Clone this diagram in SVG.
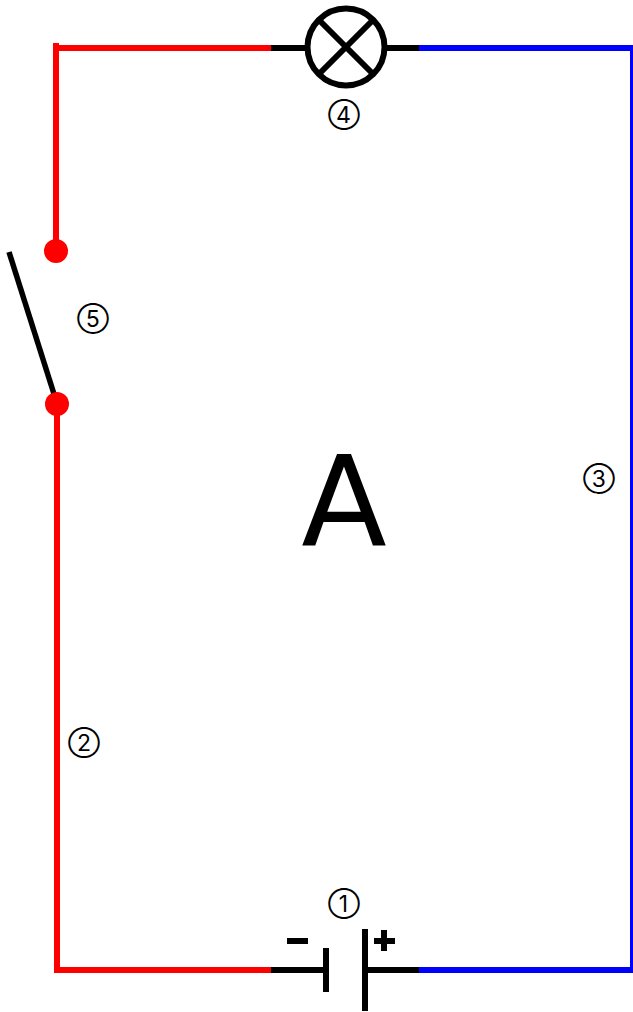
<svg xmlns="http://www.w3.org/2000/svg" width="633" height="1012" viewBox="0 0 633 1012">
<style>
.w{fill:none;stroke-width:6;stroke-linecap:butt;stroke-linejoin:miter}
.r{stroke:#f00}.b{stroke:#00f}.k{stroke:#000}
.n{font-family:"Inter",sans-serif;font-size:23px;fill:#000;text-anchor:middle}
</style>
<rect width="633" height="1012" fill="#fff"/>
<g id="connectors">
<path class="w r" d="M56 43V48H271M56 48V251"/>
<path class="w r" d="M57 404V970H271"/>
<path class="w b" d="M419 48H633V970H419"/>
<path class="w k" d="M271 48H308M384 48H419"/>
<path class="w k" d="M271 970H326M365 970H419"/>
</g>
<g id="lamp">
<circle cx="346" cy="47" r="38.5" fill="none" stroke="#000" stroke-width="6"/>
<path class="w k" d="M319 20L373 74M373 20L319 74"/>
</g>
<g id="battery">
<path class="w k" d="M326 948V992M365 929V1011M287 941H308M374 941H395M384 930V951"/>
</g>
<g id="switch">
<path d="M9 252L54 394" fill="none" stroke="#000" stroke-width="5.5"/>
<circle cx="56" cy="251" r="12" fill="#f00"/>
<circle cx="57" cy="404" r="12" fill="#f00"/>
</g>
<g id="labels">
<text class="n" x="344" y="123.300">④</text>
<text class="n" x="93" y="327.300">⑤</text>
<text class="n" x="599" y="487.300">③</text>
<text class="n" x="84" y="751.300">②</text>
<text class="n" x="344" y="912.300">①</text>
<text x="344" y="545" font-family="'DejaVu Sans',sans-serif" font-size="125" text-anchor="middle" fill="#000">A</text>
</g>
</svg>
